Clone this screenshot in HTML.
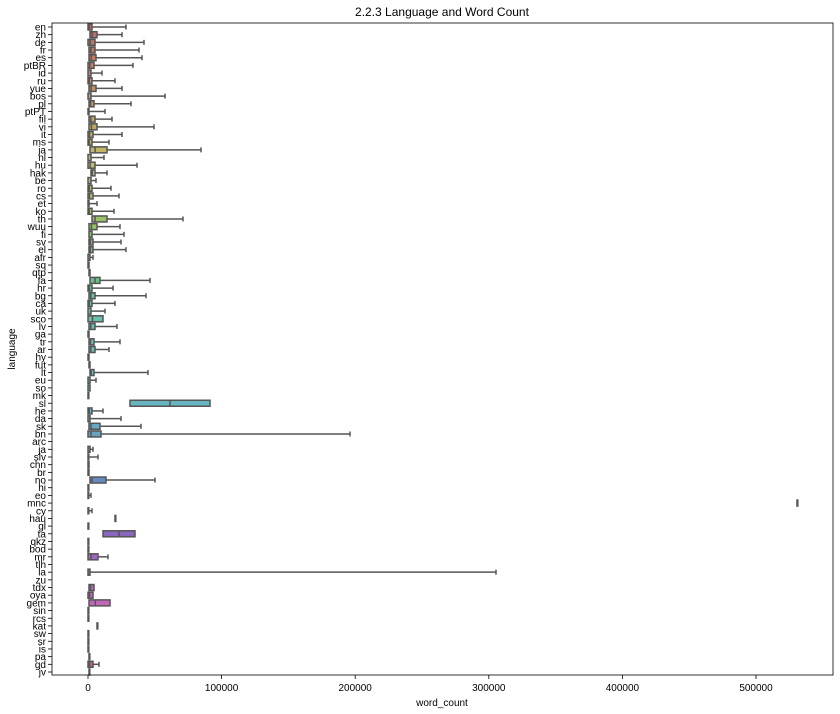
<!DOCTYPE html>
<html><head><meta charset="utf-8"><style>
body{margin:0;background:#fff;}
svg{display:block;font-family:"Liberation Sans",sans-serif;}
</style></head><body>
<svg id="s" width="840" height="714" xmlns="http://www.w3.org/2000/svg"></svg>
<script>
(function(){
const L=[
["en",88,92,126],["zh",90,97,122],["de",88,95,144],["fr",89,95,139],["es",89,96,142],["ptBR",88,94,133],["id",88,91,102],["ru",88,92,115],["yue",89,96,122],["bos",88,91,165],
["pl",89,94,131],["ptPT",88,89,105],["fil",89,95,112],["vi",89,97,154],["it",88,93,122],["ms",88,92,109],["ja",90,107,201],["nl",88,91,104],["hu",88,95,137],["hak",91,95,107],
["be",88,91,96],["ro",88,92,111],["cs",88,93,119],["et",88,89,97],["ko",88,92,114],["th",92,107,183],["wuu",89,97,120],["fi",89,92,124],["sv",89,93,121],["el",89,93,126],
["afr",88,90,93],["sq",88,89,0],["qtp",89,90,0],["fa",90,100,150],["hr",88,92,113],["bg",89,95,146],["ca",88,92,115],["uk",88,91,105],["sco",88,103,0],["lv",89,95,117],
["ga",88,89,0],["tr",89,94,120],["ar",89,95,109],["hy",88,89,0],["fut",89,90,0],["lt",90,94,148],["eu",88,90,96],["so",88,90,0],["mk",88,88.5,0],["sl",130,210,0],
["he",88,92,103],["da",88,90,121],["sk",89,100,141],["bn",88,101,350],["arc",0,0,0],["ja",88,90,93],["slv",88,88.5,98],["chn",88,89,0],["br",88,89,0],["no",90,106,155],
["hi",88,88.5,0],["eo",88,88.5,91],["mnc",797,797.5,0],["cy",88,88.5,92],["hau",115,115.5,0],["gl",88,88.5,0],["ta",103,135,0],["qkz",88,88.5,0],["bod",88,88.5,0],["mr",88,98,108],
["tlh",0,0,0],["la",88,90,496],["zu",0,0,0],["tdx",89,94,0],["oya",88,93,0],["gem",89,110,0],["sin",88,88.5,0],["rcs",88,88.5,0],["kat",97,97.5,0],["sw",88,88.5,0],
["sr",88,88.5,0],["is",88,88.5,0],["pa",89,89.5,0],["gd",88,93,99],["jv",89,89.5,0]];
const med={fa:95,sl:170,ta:119,no:92,bn:91,sk:91,th:95};
const hk=[[0,0],[10,35],[17,55],[26,90],[34,150],[39,170],[50,190],[60,220],[67,270],[76,310],[84,350]];
function hue(i){for(let k=0;k<hk.length-1;k++){const a=hk[k][0],ha=hk[k][1],b=hk[k+1][0],hb=hk[k+1][1];if(i<=b)return ha+(hb-ha)*(i-a)/(b-a);}return 350;}
let o='';
const T=23,B=675,Lf=52,R=833,y0=27,dy=645/84,bh=6;
o+='<text x="442" y="16" font-size="12" text-anchor="middle">2.2.3 Language and Word Count</text>';
L.forEach(function(d,i){const y=y0+i*dy;const n=d[0],q1=d[1],q3=d[2],w=d[3];
 o+='<line x1="'+(Lf-4)+'" y1="'+y+'" x2="'+Lf+'" y2="'+y+'" stroke="#000" stroke-width="0.8"/>';
 o+='<text x="'+(Lf-6)+'" y="'+(y+3.5)+'" font-size="10" text-anchor="end">'+n+'</text>';
 if(!q1)return;
 const c='hsl('+hue(i)+',42%,58%)';
 if(w){o+='<line x1="'+q3+'" y1="'+y+'" x2="'+w+'" y2="'+y+'" stroke="#555" stroke-width="1.5"/><line x1="'+w+'" y1="'+(y-2.5)+'" x2="'+w+'" y2="'+(y+2.5)+'" stroke="#555" stroke-width="1.5"/>';}
 const wd=Math.max(q3-q1,0.8);
 o+='<rect x="'+q1+'" y="'+(y-bh/2)+'" width="'+wd+'" height="'+bh+'" fill="'+c+'" stroke="#555" stroke-width="1.5"/>';
 if(q3-q1>3){const m=med[n]||q1+(q3-q1)*0.3;o+='<line x1="'+m+'" y1="'+(y-bh/2)+'" x2="'+m+'" y2="'+(y+bh/2)+'" stroke="#555" stroke-width="1.5"/>';}
});
o+='<rect x="'+Lf+'" y="'+T+'" width="'+(R-Lf)+'" height="'+(B-T)+'" fill="none" stroke="#000" stroke-width="0.8"/>';
for(let k=0;k<=5;k++){const x=88+k*133.6;o+='<line x1="'+x+'" y1="'+B+'" x2="'+x+'" y2="'+(B+4)+'" stroke="#000" stroke-width="0.8"/><text x="'+x+'" y="'+(B+16)+'" font-size="10" text-anchor="middle">'+(k*100000)+'</text>';}
o+='<text x="442" y="706" font-size="10" text-anchor="middle">word_count</text>';
o+='<text x="15" y="349" font-size="10" text-anchor="middle" transform="rotate(-90 15 349)">language</text>';
document.getElementById('s').innerHTML=o;
})();
</script>
</body></html>
